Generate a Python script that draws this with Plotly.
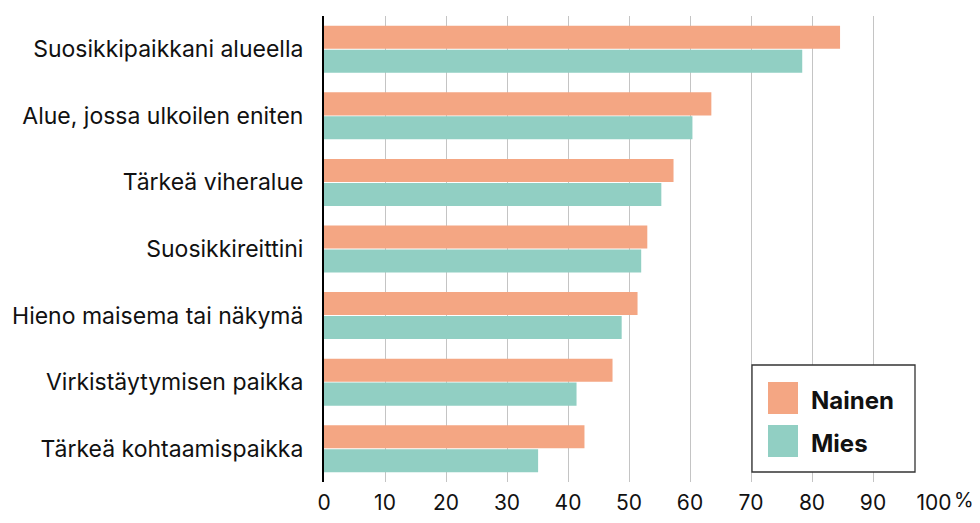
import plotly.graph_objects as go

categories = [
    "Suosikkipaikkani alueella",
    "Alue, jossa ulkoilen eniten",
    "Tärkeä viheralue",
    "Suosikkireittini",
    "Hieno maisema tai näkymä",
    "Virkistäytymisen paikka",
    "Tärkeä kohtaamispaikka",
]
nainen = [84.6, 63.5, 57.3, 53.0, 51.4, 47.3, 42.7]
mies = [78.4, 60.4, 55.3, 52.0, 48.8, 41.4, 35.1]
tick_vals = [0, 10, 20, 30, 40, 50, 60, 70, 80, 90, 100]
tick_text = ["0", "10", "20", "30", "40", "50", "60", "70", "80", "90", "100"]

C_N = "#F4A683"
C_M = "#91CFC3"
FONT = "Inter"

fig = go.Figure()
fig.add_trace(go.Bar(y=categories, x=nainen, orientation="h", name="Nainen",
                     marker=dict(color=C_N, line=dict(width=0)), showlegend=False))
fig.add_trace(go.Bar(y=categories, x=mies, orientation="h", name="Mies",
                     marker=dict(color=C_M, line=dict(width=0)), showlegend=False))

# page body has an 8px margin; work in screen pixels and convert
OFF = 8
W, H = 980 - OFF, 523 - OFF
L, R, T, B = 324 - OFF, 46, 16 - OFF, 41
pw = W - L - R
ph = H - T - B

def px(x):
    return (x - OFF - L) / pw

def py(y):
    return (H - B - (y - OFF)) / ph

shapes = [
    dict(type="rect", xref="paper", yref="paper", x0=px(752), x1=px(915), y0=py(472), y1=py(365),
         line=dict(color="#333333", width=1.3), fillcolor="white", layer="above"),
    dict(type="rect", xref="paper", yref="paper", x0=px(768), x1=px(798), y0=py(414), y1=py(382),
         line=dict(width=0), fillcolor=C_N, layer="above"),
    dict(type="rect", xref="paper", yref="paper", x0=px(768), x1=px(798), y0=py(457), y1=py(425),
         line=dict(width=0), fillcolor=C_M, layer="above"),
]
annotations = [
    dict(text="<b>Nainen</b>", xref="paper", yref="paper", x=px(809), y=py(400), xanchor="left",
         yanchor="middle", showarrow=False, font=dict(family=FONT, size=24, color="#111111")),
    dict(text="<b>Mies</b>", xref="paper", yref="paper", x=px(809), y=py(443), xanchor="left",
         yanchor="middle", showarrow=False, font=dict(family=FONT, size=24, color="#111111")),
    dict(text="%", xref="x", yref="paper", x=100, y=py(500), xanchor="left", yanchor="middle",
         xshift=18, showarrow=False, font=dict(family=FONT, size=20, color="#111111")),
]

fig.update_layout(
    width=W, height=H,
    margin=dict(l=L, r=R, t=T, b=B, pad=0, autoexpand=False),
    paper_bgcolor="white", plot_bgcolor="white",
    barmode="group", bargap=0.28, bargroupgap=0.04,
    font=dict(family=FONT, size=20, color="#111111"),
    shapes=shapes, annotations=annotations,
    xaxis=dict(range=[0, 100], tickvals=tick_vals, ticktext=tick_text, showgrid=True,
               gridcolor="#c4c4c4", gridwidth=1, zeroline=False, showline=False,
               ticks="", ticklabelstandoff=6, automargin=False,
               tickfont=dict(family=FONT, size=21, color="#111111")),
    yaxis=dict(autorange="reversed", showline=True, linecolor="black", linewidth=2,
               showgrid=False, ticks="", ticklabelstandoff=14, automargin=False,
               tickfont=dict(family=FONT, size=23, color="#111111")),
)

fig.write_html("out.html")
